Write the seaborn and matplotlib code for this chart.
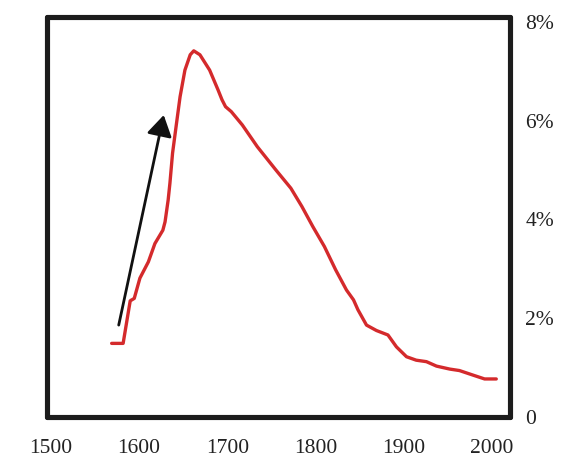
import matplotlib
matplotlib.use("Agg")
import matplotlib.pyplot as plt
import seaborn as sns
import pandas as pd

# values (year, percent)
years = [1569, 1582, 1590, 1590, 1594.6, 1601, 1610.6, 1618, 1627, 1629.5,
         1633, 1635, 1638, 1642, 1646.5, 1652, 1658, 1662, 1669, 1680,
         1689.5, 1694, 1698, 1704.5, 1717, 1734, 1755, 1772, 1784.5, 1797,
         1810, 1822.7, 1835, 1843, 1848, 1857.7, 1869, 1882, 1891.6, 1903,
         1914, 1925.6, 1937, 1952, 1963, 1978, 1991.5, 2004.7]
share = [1.49, 1.49, 2.30, 2.40, 2.40, 2.81, 3.14, 3.51, 3.78, 3.95,
         4.39, 4.73, 5.34, 5.88, 6.48, 7.02, 7.33, 7.41, 7.33, 7.02,
         6.62, 6.42, 6.28, 6.18, 5.91, 5.47, 5.00, 4.63, 4.26, 3.85,
         3.45, 2.98, 2.57, 2.37, 2.17, 1.86, 1.75, 1.66, 1.42, 1.22,
         1.15, 1.12, 1.03, 0.97, 0.94, 0.85, 0.77, 0.77]

x_ticks = [1500, 1600, 1700, 1800, 1900, 2000]
y_ticks = [0, 2, 4, 6, 8]
y_tick_labels = ["0", "2%", "4%", "6%", "8%"]

# arrow: tail and head (year, percent)
arrow_tail = (1577, 1.86)
arrow_head = (1628, 6.11)

df = pd.DataFrame({"year": years, "share": share})

sns.set_style("white")
plt.rcParams["font.family"] = ["Liberation Serif", "DejaVu Serif"]

fig = plt.figure(figsize=(5.85, 4.72), dpi=100)
ax = fig.add_axes([0.0795, 0.1165, 0.7925, 0.8465])

sns.lineplot(data=df, x="year", y="share", ax=ax, color="#d42a2c",
             linewidth=2.4, sort=False)

ax.annotate("", xy=arrow_head, xytext=arrow_tail,
            arrowprops=dict(arrowstyle="-|>,head_length=0.9,head_width=0.55",
                            color="#111111", lw=2.0, shrinkA=0, shrinkB=0,
                            mutation_scale=14))

ax.set_xlim(1495.2, 2020.4)
ax.set_ylim(0, 8.085)
ax.set_xticks(x_ticks)
ax.set_xticklabels([str(t) for t in x_ticks])
ax.set_yticks(y_ticks)
ax.set_yticklabels(y_tick_labels)
ax.yaxis.tick_right()
ax.tick_params(axis="x", length=0, pad=16, labelsize=15.5, colors="#222222")
ax.tick_params(axis="y", length=0, pad=11, labelsize=15.5, colors="#222222")
ax.set_xlabel("")
ax.set_ylabel("")

for s in ax.spines.values():
    s.set_visible(True)
    s.set_linewidth(3.7)
    s.set_color("#1c1c1c")
    s.set_capstyle("round")

fig.savefig("out.png", dpi=100)
